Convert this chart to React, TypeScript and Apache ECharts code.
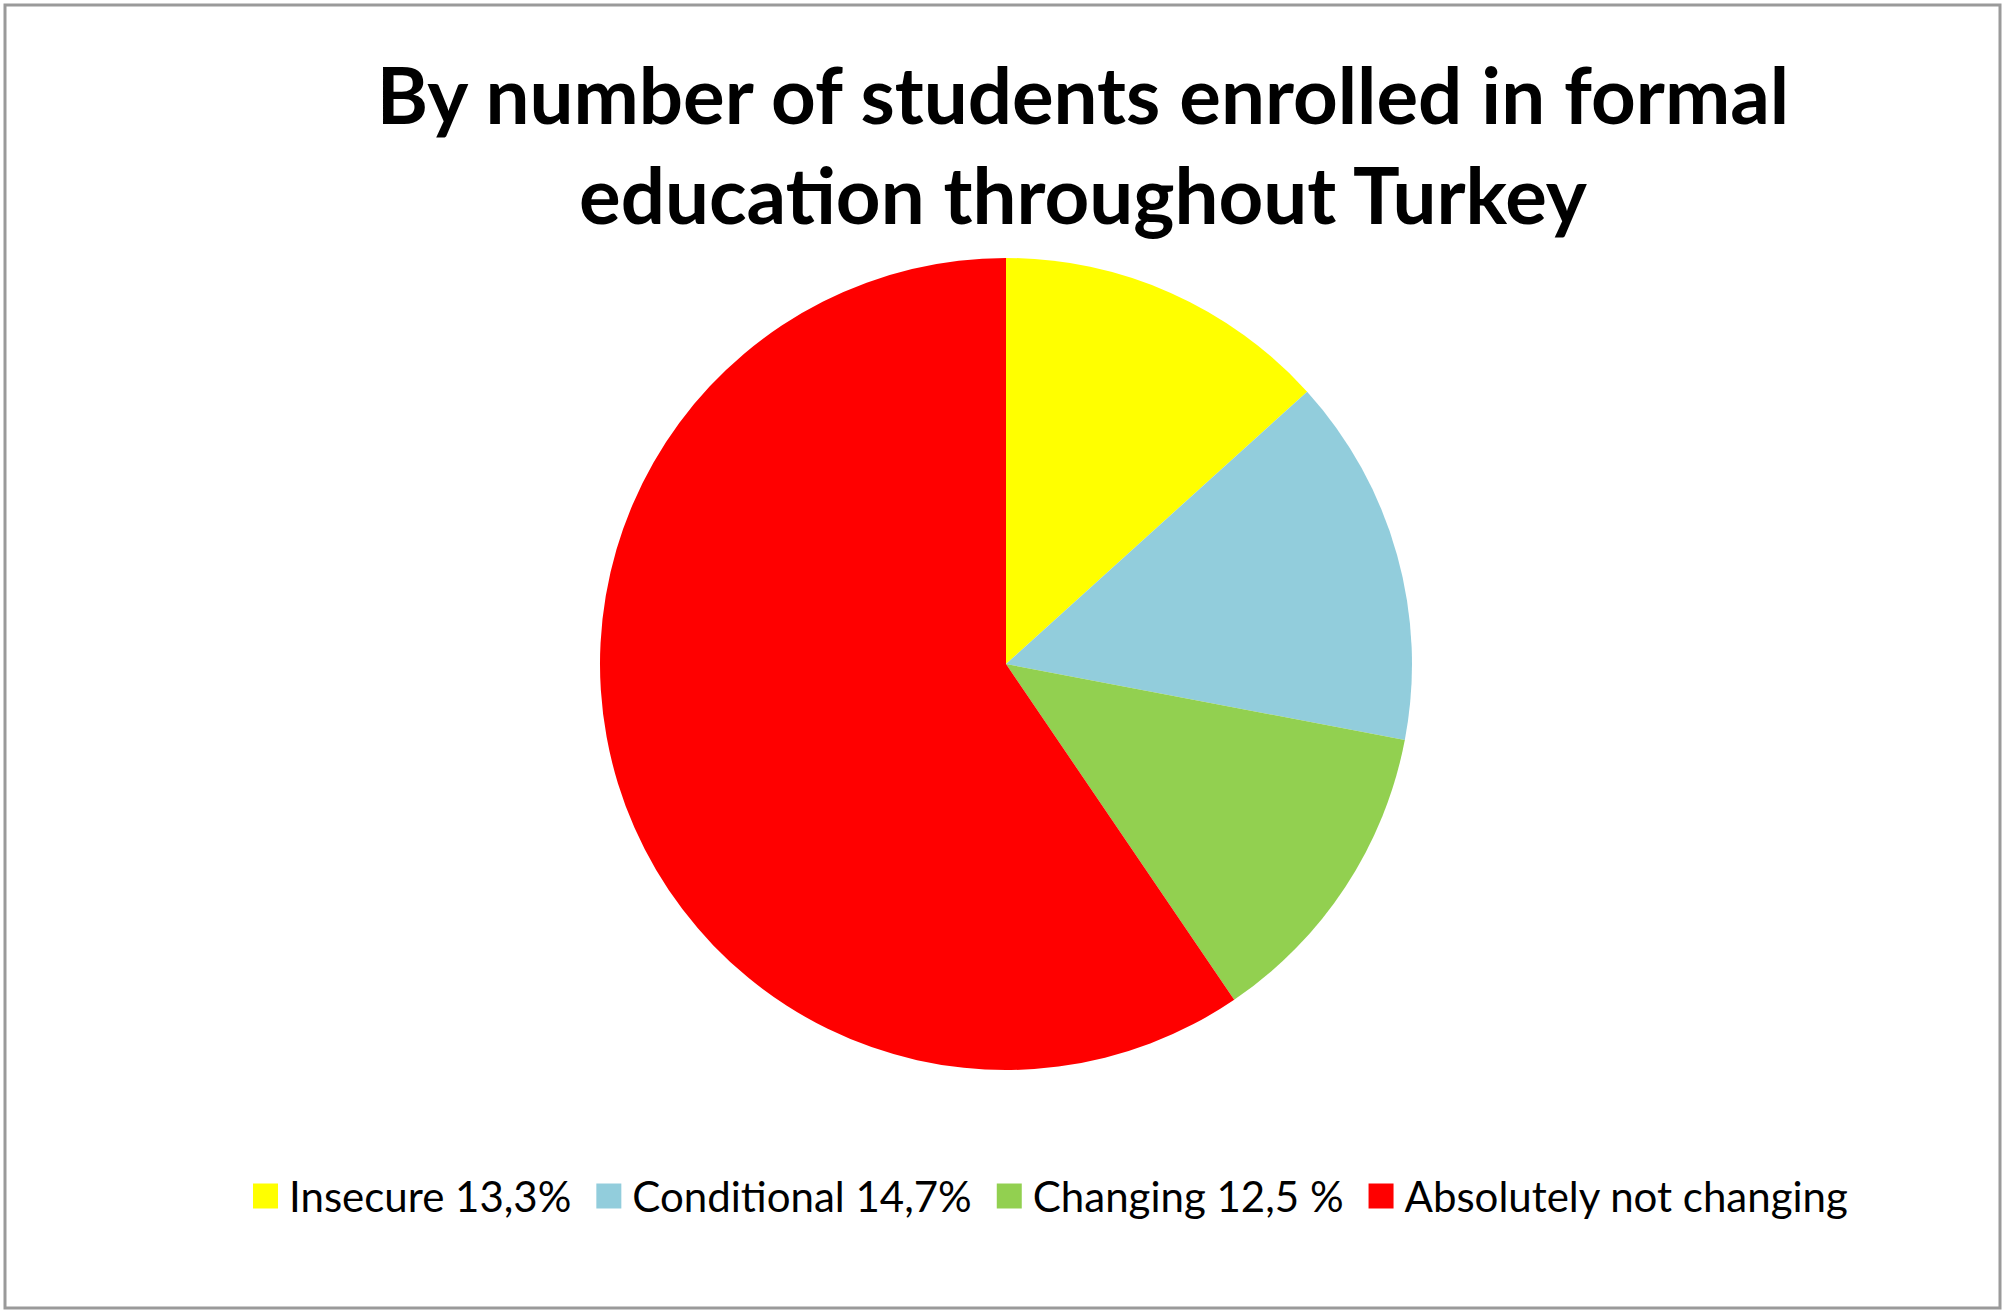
import { useEffect, useRef } from 'react'
import * as echarts from 'echarts'

const TITLE_LINES = ['By number of students enrolled in formal', 'education throughout Turkey']
const CATEGORIES = ['Insecure 13,3%', 'Conditional 14,7%', 'Changing 12,5 %', 'Absolutely not changing']
const VALUES = [13.3, 14.7, 12.5, 59.5]
const COLORS = ['#ffff00', '#92cddc', '#92d050', '#ff0000']

export default function App() {
  const elRef = useRef<HTMLDivElement>(null)

  useEffect(() => {
    document.body.style.margin = '0'
    document.body.style.overflow = 'hidden'
    if (!elRef.current) return
    const chart = echarts.init(elRef.current, undefined, { renderer: 'svg' })
    chart.setOption({
      animation: false,
      backgroundColor: '#ffffff',
      graphic: [
        {
          type: 'rect',
          shape: { x: 5, y: 5, width: 1995, height: 1303 },
          style: { fill: 'none', stroke: '#9a9a9a', lineWidth: 3 },
          silent: true,
        },
        {
          type: 'text',
          x: 1083,
          y: 144,
          style: {
            text: TITLE_LINES.join('\n'),
            fill: '#000000',
            fontFamily: 'Lato, sans-serif',
            fontWeight: 'bold',
            fontSize: 78,
            lineHeight: 100,
            align: 'center',
            verticalAlign: 'middle',
          },
          silent: true,
        },
      ],
      legend: {
        data: CATEGORIES,
        orient: 'horizontal',
        left: 253,
        top: 1174,
        padding: 0,
        itemWidth: 25,
        itemHeight: 25,
        itemGap: 25,
        icon: 'rect',
        selectedMode: false,
        textStyle: {
          color: '#000000',
          fontFamily: 'Lato, sans-serif',
          fontSize: 42,
          lineHeight: 44,
          padding: [0, 0, 0, 6],
        },
      },
      series: [
        {
          type: 'pie',
          center: [1006, 664],
          radius: 406,
          startAngle: 90,
          clockwise: true,
          label: { show: false },
          labelLine: { show: false },
          emphasis: { disabled: true },
          itemStyle: { borderWidth: 0 },
          data: CATEGORIES.map((name, i) => ({
            name,
            value: VALUES[i],
            itemStyle: { color: COLORS[i] },
          })),
        },
      ],
    })
    return () => {
      chart.dispose()
    }
  }, [])

  return <div ref={elRef} style={{ width: 2007, height: 1315 }} />
}
